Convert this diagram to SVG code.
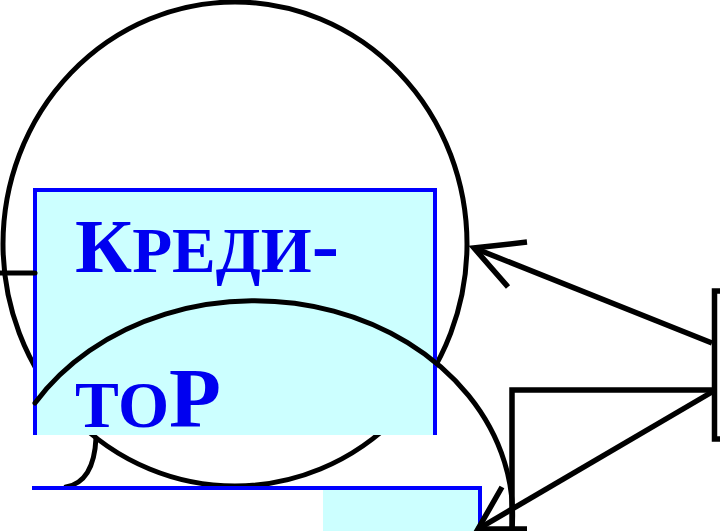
<svg xmlns="http://www.w3.org/2000/svg" width="720" height="531" viewBox="0 0 720 531">
<style>
.ln{fill:none;stroke:#000;stroke-width:5;stroke-linecap:round;stroke-linejoin:miter}
.ar{fill:none;stroke:#000;stroke-width:5.5;stroke-linecap:butt}
.bl{fill:none;stroke:#0000FF;stroke-width:4}
.cy{fill:#CCFFFF;stroke:none}
.tx{font-family:"Liberation Serif","Times New Roman",serif;font-weight:bold;fill:#0000F0}
.sc{font-variant:small-caps}
</style>
<rect x="0" y="0" width="720" height="531" fill="#FFFFFF"/>
<g id="callout">
<ellipse class="ln" cx="235" cy="244" rx="232" ry="242"/>
<path class="ln" d="M96,438 Q94,482 66,487"/>
</g>
<g id="kreditor">
<rect class="cy" x="35" y="190" width="400" height="245"/>
<path class="bl" d="M35,435 V190 H435 V435"/>
<text class="tx" x="75" y="272" textLength="264" lengthAdjust="spacingAndGlyphs"><tspan font-size="77">К</tspan><tspan class="sc" font-size="92">реди</tspan><tspan font-size="80">-</tspan></text>
<text class="tx" x="75" y="427" textLength="146" lengthAdjust="spacingAndGlyphs"><tspan class="sc" font-size="93">то</tspan><tspan font-size="84">Р</tspan></text>
</g>
<g id="arc">
<path class="ln" d="M35,403 A258,215 0 0 1 512,531"/>
</g>
<g id="box2">
<rect class="cy" x="323" y="490" width="156" height="41"/>
<path class="bl" d="M32,488 H480 V531"/>
</g>
<g id="box3">
<rect x="714.5" y="291" width="30" height="148" fill="none" stroke="#000" stroke-width="5.5"/>
</g>
<g id="connectors">
<path class="ln" d="M0,273 H35"/>
<path class="ar" d="M712,343 L474,248"/>
<path class="ar" d="M527,242 L474,248 L508,287"/>
<path class="ar" d="M712,390 H512 V527"/>
<path class="ar" d="M712,392 L478,529"/>
<path class="ar" d="M502,487 L478,529 L527,529"/>
</g>
</svg>
